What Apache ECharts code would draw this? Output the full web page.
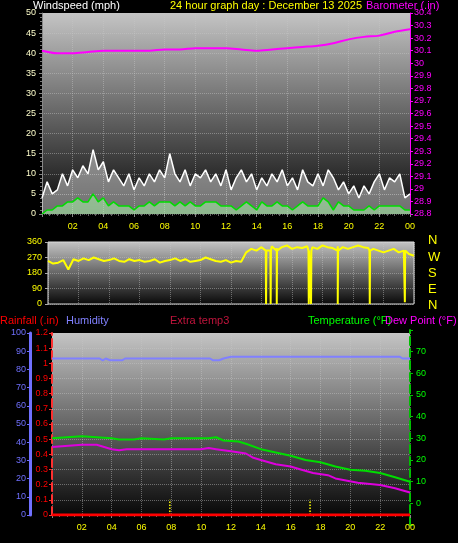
<!DOCTYPE html>
<html><head><meta charset="utf-8">
<script src="https://cdn.jsdelivr.net/npm/echarts@6/dist/echarts.min.js"></script>
<style>html,body{margin:0;padding:0;background:#000}#c{width:458px;height:543px}</style>
</head><body><div id="c"></div>
<script>
// wind, every 20 minutes from 00:00 to 24:00
const windGust=[4,8,5, 6,10,7, 11,9,12, 10,16,11, 13,8,11, 9,7,10, 6,9,7, 10,8,11, 9,15,10, 8,11,7, 10,9,11, 8,10,7, 11,6,9, 11,8,10, 6,9,7, 10,8,11, 7,9,6, 11,8,7, 10,7,11, 9,6,8, 5,7,4, 7,5,8, 10,6,9, 8,10,4, 5];
const windAvg=[0,1,1, 2,2,3, 3,4,3, 3,5,3, 4,2,3, 2,2,2, 1,2,2, 3,2,3, 3,3,2, 3,2,3, 2,2,3, 3,3,2, 2,2,1, 2,3,2, 1,3,2, 2,3,2, 2,1,2, 3,2,2, 2,4,3, 1,3,2, 2,1,1, 1,2,1, 2,2,2, 2,2,1, 1];
// barometer hourly
const baro=[30.10,30.08,30.08,30.09,30.10,30.10,30.10,30.10,30.11,30.11,30.12,30.12,30.12,30.11,30.10,30.11,30.12,30.13,30.14,30.16,30.19,30.21,30.22,30.25,30.27];
// wind direction every 20 min
const dirValues=[250,235,240, 255,200,260, 250,265,255, 270,260,250, 255,265,250, 245,260,250, 255,245,250, 260,240,250, 255,265,250, 260,245,250, 255,270,260, 250,245,255, 240,250,245,
 300,320,310, 330,320,335, 325,330,340, 320,330,325, 335,330,320, 340,330,325, 335,330,320, 330,340,330, 325,320,310, 300,310,320, 300,310,290, 280];
const dirDrops=[[14.3,0],[14.6,0],[15.0,0],[17.1,0],[17.25,0],[19.0,0],[21.1,0],[23.4,10]];
// bottom chart: [hour, value]
const humidity=[[0,86],[3.2,86],[3.4,85],[3.6,86],[3.9,85],[4.7,85],[4.9,86],[10.6,86],[10.8,85],[11.2,85],[11.5,86],[12,87],[23.3,87],[23.5,86],[24,86]];
const rainfall=[[0,0],[24,0]];
const temperature=[[0,30],[1,30.5],[2,31],[3,30.5],[4,30],[4.5,29.5],[5.5,29.5],[6,30],[7.5,29.5],[8,30],[10.5,30],[11,30.5],[11.5,29],[12.5,28.5],[13,27.5],[14,25],[15,23.5],[16,22],[17,20],[18,19],[19,17],[20,15.5],[21,15],[22,14],[23,12],[24,10]];
const dewPoint=[[0,26],[2,27],[3,27],[3.5,26],[4,25],[4.5,24.5],[5,25],[10,25],[10.5,25.5],[11,25],[12,24],[13,23],[13.5,21],[14,20],[15,18],[16,17],[16.5,16],[17.5,14],[18.5,13],[19,11.5],[20.5,9.5],[22,8.5],[23,7],[24,5]];
const rainMarks=[[7.9,0],[7.9,0.1],null,[17.3,0],[17.3,0.1]];
const hourTicks=['02','04','06','08','10','12','14','16','18','20','22','00'];

const ch=echarts.init(document.getElementById('c'));
const bg={type:'linear',x:0,y:0,x2:0,y2:1,colorStops:[{offset:0,color:'#c4c4c4'},{offset:1,color:'#080808'}]};
const split={show:true,lineStyle:{color:'rgba(200,200,200,0.45)',type:'dotted'}};
const fnt='Liberation Sans';
const xlab=(show)=>({show:show,color:'#ffff00',fontSize:9,fontFamily:fnt,formatter:v=>v===0?'':hourTicks[v/2-1]});
function xa(g,show){return {type:'value',gridIndex:g,min:0,max:24,interval:2,axisLine:{show:false},axisTick:{show:show,length:3,lineStyle:{color:'#888'}},minorTick:{show:show,splitNumber:4,length:2,lineStyle:{color:'#666'}},axisLabel:xlab(show),splitLine:split};}
const wT=windGust.map((v,i)=>[i/3,v]), wA=windAvg.map((v,i)=>[i/3,v]);
const bT=baro.map((v,i)=>[i,v]);
const dT=dirValues.map((v,i)=>[i/3,v]).concat(dirDrops.flatMap(d=>[[d[0]-0.02,310],d,[d[0]+0.02,310]])).sort((a,b)=>a[0]-b[0]);
const txt=(x,y,t,c)=>({type:'text',left:x,top:y,style:{text:t,fill:c,font:'11px '+fnt}});
ch.setOption({
 backgroundColor:'#000',animation:false,
 graphic:[txt(33,0,'Windspeed (mph)','#fff'),txt(170,0,'24 hour graph day : December 13 2025','#ffff00'),txt(366,0,'Barometer (.in)','#ff00ff'),
  txt(0,315,'Rainfall (.in)','#ff0000'),txt(66,315,'Humidity','#8080ff'),txt(170,315,'Extra temp3','#c0143c'),txt(308,315,'Temperature (°F)','#00ff00'),txt(385,315,'Dew Point (°F)','#ff00ff'),
  {type:'text',left:428,top:234,style:{text:'N',fill:'#ffff00',font:'13px '+fnt}},{type:'text',left:428,top:251,style:{text:'W',fill:'#ffff00',font:'13px '+fnt}},
  {type:'text',left:428,top:267,style:{text:'S',fill:'#ffff00',font:'13px '+fnt}},{type:'text',left:428,top:283,style:{text:'E',fill:'#ffff00',font:'13px '+fnt}},
  {type:'text',left:428,top:299,style:{text:'N',fill:'#ffff00',font:'13px '+fnt}}],
 grid:[{left:42,right:48,top:13,height:201,show:true,backgroundColor:bg,borderWidth:0},
  {left:48,right:44,top:242,height:62,show:true,backgroundColor:bg,borderColor:'#ddd',borderWidth:1},
  {left:52,right:48,top:333,height:182,show:true,backgroundColor:bg,borderWidth:0},
  {left:52,right:48,top:330,height:195,show:false}],
 xAxis:[xa(0,true),xa(1,false),xa(2,true),Object.assign(xa(3,false),{splitLine:{show:false}})],
 yAxis:[
  {type:'value',gridIndex:0,min:0,max:50,interval:5,axisLine:{show:true,onZero:false,lineStyle:{color:'#888'}},axisTick:{show:true,length:3},minorTick:{show:true,splitNumber:5,length:2,lineStyle:{color:'#777'}},axisLabel:{color:'#ffffcc',fontSize:9,fontFamily:fnt,margin:6},splitLine:split},
  {type:'value',gridIndex:0,position:'right',min:28.8,max:30.4,interval:0.1,axisLine:{show:true,onZero:false,lineStyle:{color:'#ff00ff'}},axisTick:{show:true,length:3,lineStyle:{color:'#ff00ff'}},axisLabel:{color:'#ff00ff',fontSize:9,fontFamily:fnt,margin:4,formatter:v=>String(+v.toFixed(1))},splitLine:{show:false}},
  {type:'value',gridIndex:1,min:0,max:360,interval:90,axisLine:{show:false},axisTick:{show:true,length:3,lineStyle:{color:'#aaa'}},axisLabel:{color:'#ffff00',fontSize:9,fontFamily:fnt,margin:6},splitLine:split},
  {type:'value',gridIndex:2,position:'left',min:0,max:1.2,interval:0.1,axisLine:{show:true,onZero:false,lineStyle:{color:'#ff3030',type:'dashed',width:2}},axisTick:{show:true,length:3,lineStyle:{color:'#ff3030'}},axisLabel:{color:'#ff0000',fontSize:9,fontFamily:fnt,margin:4,formatter:v=>String(+v.toFixed(1))},splitLine:split},
  {type:'value',gridIndex:2,position:'left',min:0,max:100,interval:10,offset:22,axisLine:{show:true,onZero:false,lineStyle:{color:'#7070ff',width:3}},axisTick:{show:true,length:3,lineStyle:{color:'#7070ff'}},axisLabel:{color:'#7070ff',fontSize:9,fontFamily:fnt,margin:4},splitLine:{show:false}},
  {type:'value',gridIndex:3,position:'right',min:-10,max:80,interval:10,axisLine:{show:true,onZero:false,lineStyle:{color:'#00c000',type:'dashed',width:2}},axisTick:{show:true,length:3,lineStyle:{color:'#00c000'}},axisLabel:{color:'#00ff00',fontSize:9,fontFamily:fnt,margin:6,formatter:v=>(v<0||v>70)?'':v},splitLine:{show:false}}
 ],
 series:[
  {type:'line',xAxisIndex:0,yAxisIndex:0,data:wT,symbol:'none',lineStyle:{color:'#ffffff',width:1.5},areaStyle:{color:'rgba(255,255,255,0.6)'}},
  {type:'line',xAxisIndex:0,yAxisIndex:0,data:wA,symbol:'none',lineStyle:{color:'#00dd00',width:1.5},areaStyle:{color:'rgba(170,240,170,0.8)'}},
  {type:'line',xAxisIndex:0,yAxisIndex:1,data:bT,symbol:'none',smooth:0.3,lineStyle:{color:'#ff00ff',width:2}},
  {type:'line',xAxisIndex:1,yAxisIndex:2,data:dT,symbol:'none',lineStyle:{color:'#ffff00',width:2}},
  {type:'line',xAxisIndex:2,yAxisIndex:4,data:humidity,symbol:'none',lineStyle:{color:'#8080ff',width:2}},
  {type:'line',xAxisIndex:2,yAxisIndex:3,data:rainMarks,symbol:'none',connectNulls:false,lineStyle:{color:'#ffff00',width:1.5,type:'dotted'}},
  {type:'line',xAxisIndex:2,yAxisIndex:3,data:rainfall,symbol:'none',lineStyle:{color:'#ff0000',width:3}},
  {type:'line',xAxisIndex:3,yAxisIndex:5,data:temperature,symbol:'none',lineStyle:{color:'#00dd00',width:2}},
  {type:'line',xAxisIndex:3,yAxisIndex:5,data:dewPoint,symbol:'none',lineStyle:{color:'#dd00dd',width:2}}
 ]
});
</script></body></html>
